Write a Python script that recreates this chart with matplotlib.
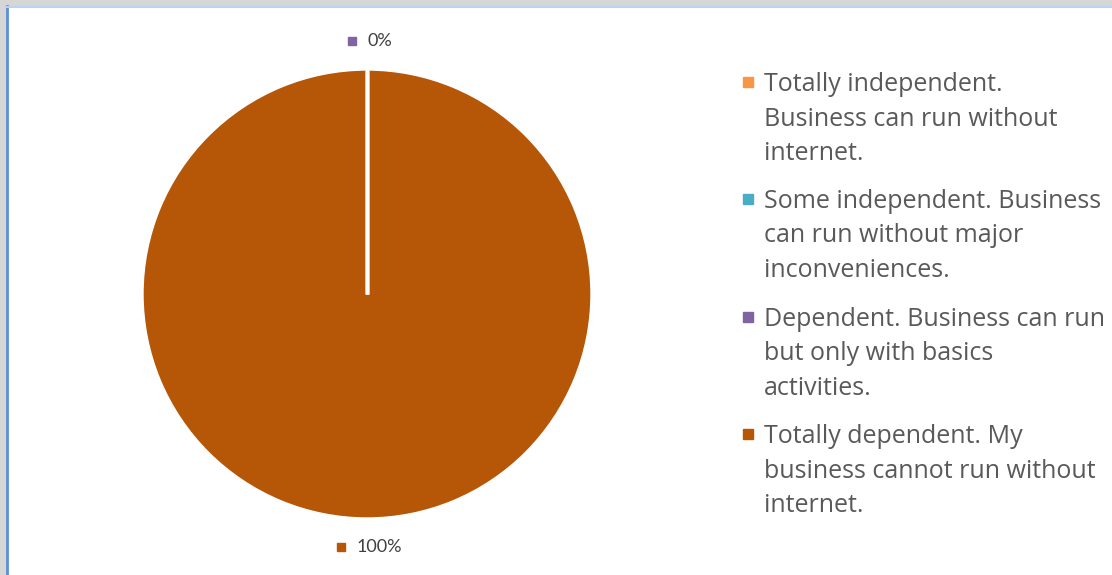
import numpy as np
import matplotlib.pyplot as plt
from matplotlib.patches import Rectangle
from matplotlib.lines import Line2D
from matplotlib.transforms import ScaledTranslation

categories = [
    "Totally independent.\nBusiness can run without\ninternet.",
    "Some independent. Business\ncan run without major\ninconveniences.",
    "Dependent. Business can run\nbut only with basics\nactivities.",
    "Totally dependent. My\nbusiness cannot run without\ninternet.",
]
shares = [0, 0, 0, 100]
colors = ["#F79646", "#4BACC6", "#8064A2", "#B65708"]
# Only these wedges carry a data label (the zero ones overlap at the top)
labelled = [2, 3]

W, H = 1112, 575
fig = plt.figure(figsize=(W / 100, H / 100), dpi=100)

# window frame along the top and left
fig.patches.append(Rectangle((0, 1 - 6 / H), 1, 6 / H, transform=fig.transFigure,
                             color="#D6D6D6", zorder=0))
fig.patches.append(Rectangle((0, 0), 6 / W, 1, transform=fig.transFigure,
                             color="#D6D6D6", zorder=0))
fig.add_artist(Line2D([6.5 / W, 6.5 / W], [0, 1 - 6 / H], transform=fig.transFigure,
                      color="#5B8FD8", lw=2))
fig.add_artist(Line2D([6 / W, 1], [1 - 7 / H, 1 - 7 / H], transform=fig.transFigure,
                      color="#BCD3F0", lw=1.5))

cx, cy, R = 367, 294, 224
ax = fig.add_axes([(cx - R) / W, (H - cy - R) / H, 2 * R / W, 2 * R / H])
wedges, _ = ax.pie(shares, colors=colors, startangle=90, counterclock=False,
                   radius=1, wedgeprops=dict(edgecolor="white", linewidth=1))
ax.set_xlim(-1, 1)
ax.set_ylim(-1, 1)
ax.axis("off")

# white separator where the slices meet
for w in wedges:
    a = np.deg2rad(w.theta2)
    ax.plot([0, np.cos(a)], [0, np.sin(a)], color="white", lw=2.5,
            solid_capstyle="butt")

fig.canvas.draw()
renderer = fig.canvas.get_renderer()

for i in labelled:
    w = wedges[i]
    ang = np.deg2rad((w.theta1 + w.theta2) / 2)
    x, y = 1.13 * np.cos(ang), 1.13 * np.sin(ang)
    t = ax.annotate(f"{shares[i]}%", (x, y), xytext=(9, 0), textcoords="offset points",
                    ha="center", va="center", fontsize=13, family="Lato",
                    color="#404040", annotation_clip=False)
    tw = t.get_window_extent(renderer).width * 72 / 100
    ax.plot([x], [y], marker="s", ms=5.5, color=colors[i], clip_on=False,
            transform=ax.transData + ScaledTranslation(
                (9 - tw / 2 - 11) / 72, 0, fig.dpi_scale_trans))

# legend on the right
tops = [82, 199, 317, 434]
for lab, col, ty in zip(categories, colors, tops):
    fig.add_artist(Line2D([748 / W], [1 - ty / H], marker="s", ms=6.5, color=col,
                          transform=fig.transFigure))
    fig.text(764 / W, 1 - (ty - 10) / H, lab, ha="left", va="top", fontsize=18,
             family="Open Sans", color="#595959", linespacing=1.5)

fig.savefig("out.png", dpi=100)
